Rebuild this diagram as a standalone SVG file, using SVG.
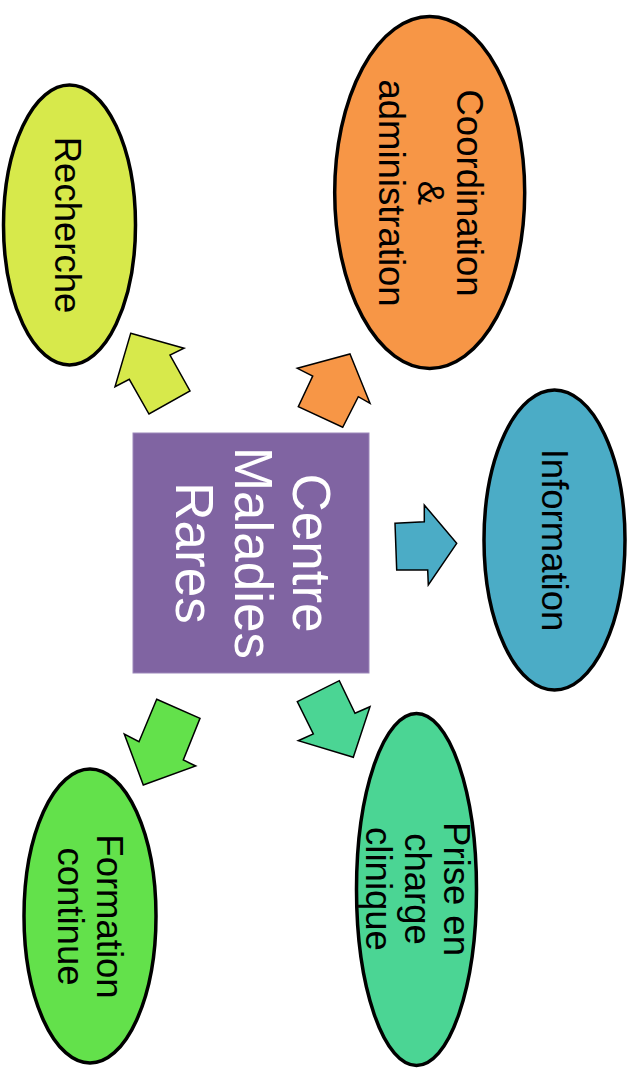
<svg xmlns="http://www.w3.org/2000/svg" width="635" height="1074" viewBox="0 0 635 1074">
<style>
.node{stroke:#000;stroke-width:3.5}
.arr{stroke:#000;stroke-width:1.5;stroke-linejoin:miter}
text{font-family:"Liberation Sans",Arial,sans-serif;text-anchor:middle}
.t{font-size:36.5px;fill:#000}
.c{font-size:53px;fill:#fff}
</style>
<rect width="635" height="1074" fill="#fff"/>
<g id="connectors">
<polygon class="arr" fill="#D7E94B" points="130.7,333.3 184,348.3 170,355 190,391 149,414 129.3,379.3 115,386.7"/>
<polygon class="arr" fill="#F79646" points="350,354 370,403.3 358.3,396.7 342.7,427.3 298.3,406.7 312.7,376 297.3,368.3"/>
<polygon class="arr" fill="#4BACC6" points="395,523.3 424.3,521.7 424.3,505 456.7,543.3 428.3,585 427.7,570 396.7,570"/>
<polygon class="arr" fill="#4BD594" points="297.3,701.7 339.3,680.7 355,713.3 370,706.7 353.3,757.3 298.3,740.7 313.3,734"/>
<polygon class="arr" fill="#63E14B" points="156.7,699.3 200,718.3 183.3,760 195.7,766 143.3,785 124.3,734 139,741.7"/>
</g>
<g id="centre">
<rect x="133" y="433" width="236" height="240" fill="#8064A2" stroke="#9C87BA" stroke-width="1"/>
<text class="c" transform="translate(293,553) rotate(90)">Centre</text>
<text class="c" transform="translate(235,553) rotate(90)">Maladies</text>
<text class="c" transform="translate(176,553) rotate(90)">Rares</text>
</g>
<g id="recherche">
<ellipse class="node" cx="69.5" cy="225" rx="66" ry="140" fill="#D7E94B"/>
<text class="t" transform="translate(55,225) rotate(90)">Recherche</text>
</g>
<g id="coordination">
<ellipse class="node" cx="429.7" cy="192.5" rx="95" ry="176" fill="#F79646"/>
<text class="t" transform="translate(456.5,193) rotate(90)">Coordination</text>
<text class="t" transform="translate(417.5,193) rotate(90)">&amp;</text>
<text class="t" transform="translate(379,193) rotate(90)">administration</text>
</g>
<g id="information">
<ellipse class="node" cx="554.5" cy="540" rx="70.5" ry="150" fill="#4BACC6"/>
<text class="t" transform="translate(541.5,540) rotate(90)">Information</text>
</g>
<g id="prise">
<ellipse class="node" cx="416.5" cy="889.5" rx="60" ry="176" fill="#4BD594"/>
<text class="t" transform="translate(443.5,889) rotate(90)">Prise en</text>
<text class="t" transform="translate(404.5,889) rotate(90)">charge</text>
<text class="t" transform="translate(365.5,889) rotate(90)">clinique</text>
</g>
<g id="formation">
<ellipse class="node" cx="90" cy="916" rx="66" ry="147" fill="#63E14B"/>
<text class="t" transform="translate(96.5,916.5) rotate(90)">Formation</text>
<text class="t" transform="translate(57.5,916.5) rotate(90)">continue</text>
</g>
</svg>
